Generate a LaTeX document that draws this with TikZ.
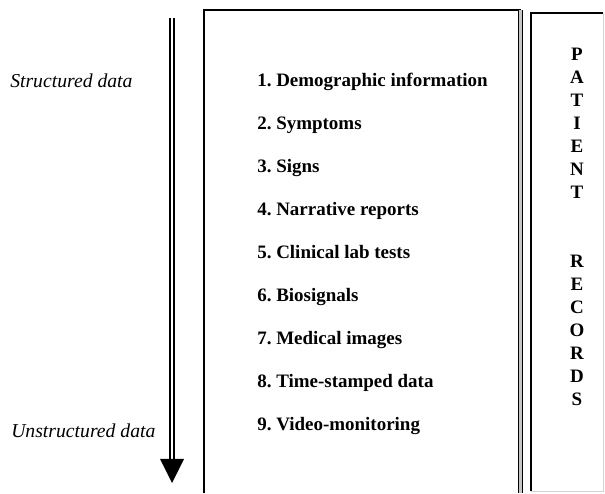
\documentclass[tikz,border=0pt]{standalone}
\usepackage{fontspec}
\setmainfont{Liberation Serif}
\frenchspacing
\begin{document}
\begin{tikzpicture}[
    boxline/.style={line width=0.035cm},
    faintline/.style={line width=0.025cm, gray!35},
    boxdouble/.style={line width=0.035cm, double=gray!45, double distance=0.055cm},
    flowshaft/.style={line width=0.05cm, double distance=0.05cm},
    sidelabel/.style={anchor=base west, inner sep=0pt, font=\fontsize{14}{16}\selectfont\itshape},
    itemlabel/.style={anchor=base west, inner sep=0pt, font=\fontsize{13.5}{16}\selectfont\bfseries},
    recletter/.style={anchor=base, inner sep=0pt, font=\fontsize{13.5}{16}\selectfont\bfseries}]
    \useasboundingbox (0,0) rectangle (15.125000,12.325000);

    % Drawing flow arrow from structured to unstructured
    \coordinate (flowtop) at (4.300000,11.875000);
    \coordinate (flowbase) at (4.300000,0.850000);
    \coordinate (flowtip) at (4.300000,0.250000);
    \draw [flowshaft] (flowtop) -- (flowbase);%
    \fill (flowbase) ++(-0.300000,0.000000) -- (flowtip) -- ++(0.300000,0.600000) -- cycle;%

    % Marking ends of the flow
    \node [sidelabel] (structured) at (0.250000,10.125000) {Structured data};%
    \node [sidelabel] (unstructured) at (0.275000,1.400000) {Unstructured data};%

    % Drawing list box
    \draw [boxline] (5.100000,0.000000) -- (5.100000,12.075000) -- (13.012500,12.075000);%
    \draw [boxdouble] (13.012500,12.075000) -- (13.012500,0.000000);%

    % Marking list items
    \node [itemlabel] (item1) at (6.425000,10.150000) {1. Demographic information};%
    \node [itemlabel] (item2) at (6.425000,9.075000) {2. Symptoms};%
    \node [itemlabel] (item3) at (6.425000,8.000000) {3. Signs};%
    \node [itemlabel] (item4) at (6.425000,6.925000) {4. Narrative reports};%
    \node [itemlabel] (item5) at (6.425000,5.850000) {5. Clinical lab tests};%
    \node [itemlabel] (item6) at (6.425000,4.775000) {6. Biosignals};%
    \node [itemlabel] (item7) at (6.425000,3.700000) {7. Medical images};%
    \node [itemlabel] (item8) at (6.425000,2.625000) {8. Time-stamped data};%
    \node [itemlabel] (item9) at (6.425000,1.550000) {9. Video-monitoring};%

    % Drawing records box
    \draw [boxline] (13.275000,0.050000) -- (13.275000,12.000000) -- (15.075000,12.000000);%
    \draw [faintline] (15.075000,12.000000) -- (15.075000,0.050000) -- (13.275000,0.050000);%

    % Marking PATIENT
    \node [recletter] (pat1) at (14.425000,10.812500) {P};%
    \node [recletter] (pat2) at (14.425000,10.237500) {A};%
    \node [recletter] (pat3) at (14.425000,9.662500) {T};%
    \node [recletter] (pat4) at (14.425000,9.087500) {I};%
    \node [recletter] (pat5) at (14.425000,8.512500) {E};%
    \node [recletter] (pat6) at (14.425000,7.937500) {N};%
    \node [recletter] (pat7) at (14.425000,7.362500) {T};%

    % Marking RECORDS
    \node [recletter] (rec1) at (14.425000,5.637500) {R};%
    \node [recletter] (rec2) at (14.425000,5.062500) {E};%
    \node [recletter] (rec3) at (14.425000,4.487500) {C};%
    \node [recletter] (rec4) at (14.425000,3.912500) {O};%
    \node [recletter] (rec5) at (14.425000,3.337500) {R};%
    \node [recletter] (rec6) at (14.425000,2.762500) {D};%
    \node [recletter] (rec7) at (14.425000,2.187500) {S};%
\end{tikzpicture}
\end{document}
